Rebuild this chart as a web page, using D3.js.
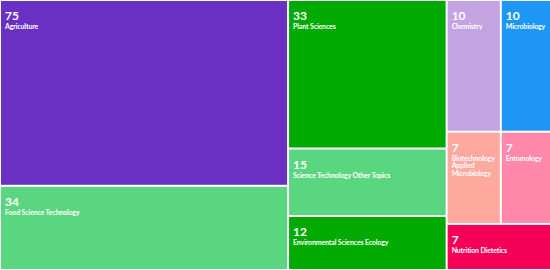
<!DOCTYPE html>
<html>
<head>
<meta charset="utf-8">
<script src="https://cdn.jsdelivr.net/npm/d3@7"></script>
<style>
  html, body { margin: 0; padding: 0; background: #fff; overflow: hidden; }
  text { font-family: Lato, "Open Sans", sans-serif; font-weight: bold; fill: #fff; }
</style>
</head>
<body>
<svg id="chart"></svg>
<script>
var width = 550,
    height = 270,
    layoutWidth = 555; // the reference treemap runs a little past the right edge

// categories and counts, grouped into the columns / rows of the reference
var categories = ['Agriculture', 'Food Science Technology',
    'Plant Sciences', 'Science Technology Other Topics', 'Environmental Sciences Ecology',
    'Chemistry', 'Microbiology', 'Biotechnology Applied Microbiology', 'Entomology',
    'Nutrition Dietetics'];
var counts = [75, 34, 33, 15, 12, 10, 10, 7, 7, 7];
var colors = ['#6930c3', '#5bd680', '#00aa00', '#5bd680', '#00aa00',
    '#c4a3e3', '#1e96f5', '#ffa89e', '#ff88ab', '#f50057'];
// index groups: columns, then rows inside the last column
var groups = [[0, 1], [2, 3, 4], [[5, 6], [7, 8], 9]];

function leaf(i) {
    return { name: categories[i], value: counts[i], color: colors[i] };
}
function build(g) {
    if (typeof g === 'number') return leaf(g);
    return { children: g.map(build) };
}

var root = d3.hierarchy(build(groups))
    .sum(function(d) { return d.value || 0; });

d3.treemap()
    .size([layoutWidth, height])
    .tile(d3.treemapSliceDice)
    .round(false)(root);

var svg = d3.select('svg#chart')
    .attr('width', width)
    .attr('height', height);

var cells = svg.selectAll('g.cell')
    .data(root.leaves())
    .enter().append('g')
    .attr('class', 'cell')
    .attr('transform', function(d) { return 'translate(' + d.x0 + ',' + d.y0 + ')'; });

cells.append('rect')
    .attr('x', 1)
    .attr('y', 1)
    .attr('width', function(d) { return Math.max(0, d.x1 - d.x0 - 2); })
    .attr('height', function(d) { return Math.max(0, d.y1 - d.y0 - 2); })
    .attr('fill', function(d) { return d.data.color; });

cells.append('text')
    .attr('x', 5)
    .attr('y', 20)
    .style('font-size', '12px')
    .text(function(d) { return d.data.value; });

cells.append('text')
    .attr('class', 'label')
    .attr('x', 5)
    .attr('y', 29)
    .style('font-size', '7px')
    .style('letter-spacing', '-0.15px')
    .each(function(d) {
        var maxW = Math.min(d.x1, width) - d.x0 - 8,
            el = d3.select(this),
            words = d.data.name.split(' '),
            line = [],
            tspan = el.append('tspan').attr('x', 5).attr('dy', 0);
        words.forEach(function(w) {
            line.push(w);
            tspan.text(line.join(' '));
            if (tspan.node().getComputedTextLength() > maxW && line.length > 1) {
                line.pop();
                tspan.text(line.join(' '));
                line = [w];
                tspan = el.append('tspan').attr('x', 5).attr('dy', '7.5px').text(w);
            }
        });
    });
</script>
</body>
</html>
